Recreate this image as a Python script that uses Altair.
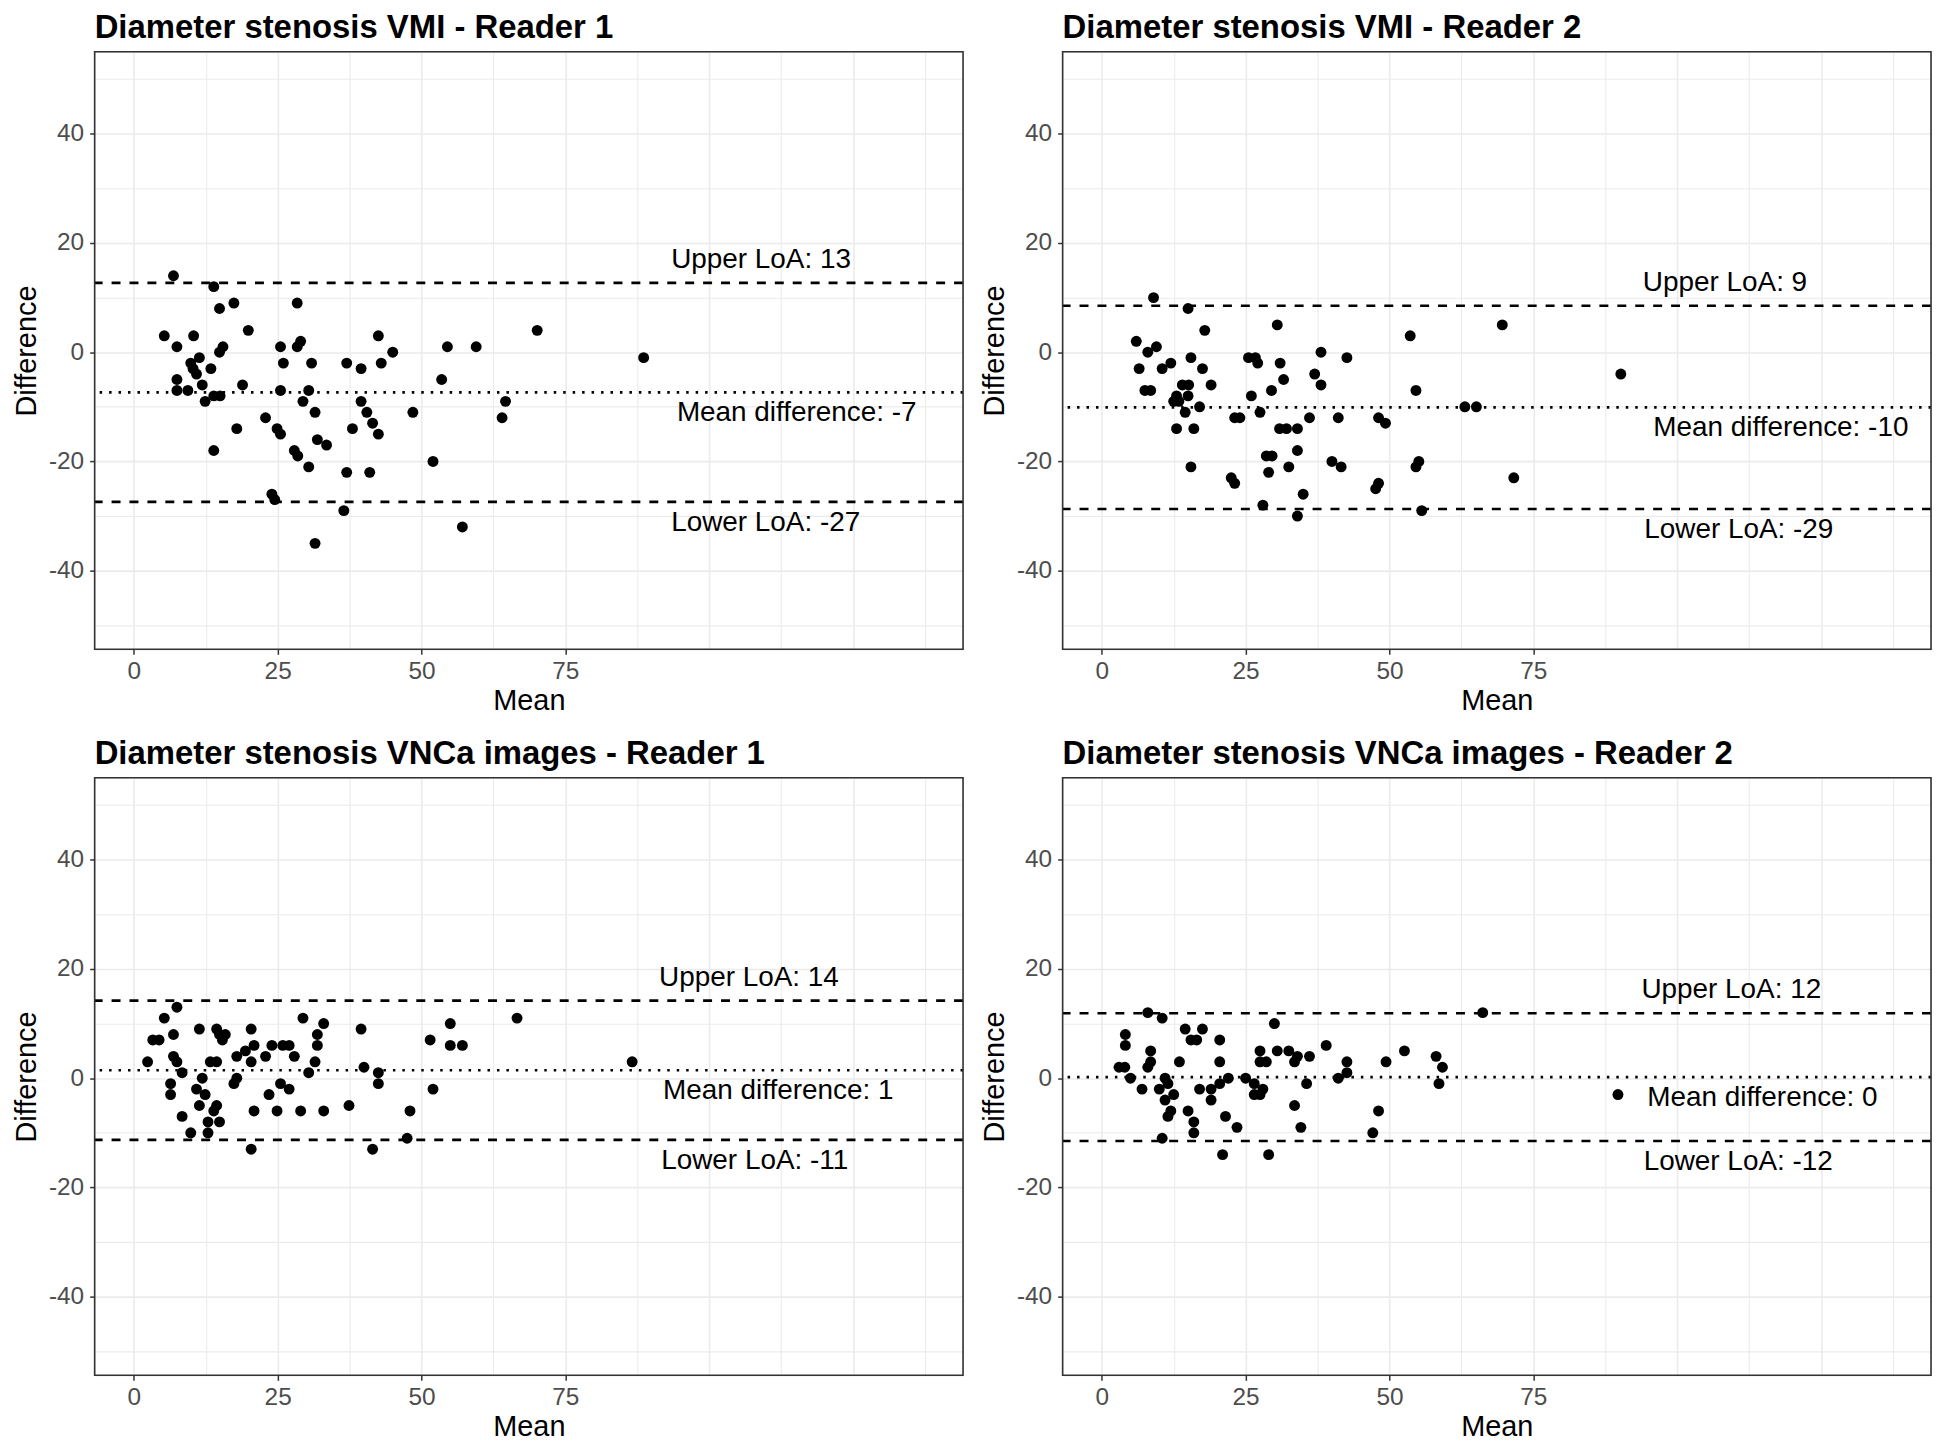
import altair as alt
import pandas as pd

FONT = "Liberation Sans"

titles = [
    "Diameter stenosis VMI - Reader 1",
    "Diameter stenosis VMI - Reader 2",
    "Diameter stenosis VNCa images - Reader 1",
    "Diameter stenosis VNCa images - Reader 2",
]

# Panel 1: VMI - Reader 1
p1_mean = [6.9, 13.9, 14.9, 17.4, 28.4, 5.3, 10.4, 7.5, 15.5, 14.9, 19.9, 25.5, 28.4, 29.0, 42.5,
           45.0, 26.0, 30.9, 37.0, 39.5, 43.0, 11.4, 9.9, 10.3, 10.9, 13.4, 7.5, 7.5, 9.4, 11.9,
           12.4, 13.9, 15.0, 18.9, 25.5, 30.4, 29.4, 31.5, 39.5, 40.5, 41.5, 42.5, 38.0, 48.5, 22.9,
           24.9, 25.5, 17.9, 13.9, 31.9, 33.5, 27.9, 28.5, 30.4, 37.0, 41.0, 24.0, 24.5, 36.5, 31.5,
           54.5, 59.5, 70.1, 53.5, 64.6, 64.0, 52.0, 57.1, 88.6]
p1_diff = [14, 12, 8, 9, 9, 3, 3, 1, 1, 0, 4, 1, 1, 2, 3,
           0, -2, -2, -2, -3, -2, -1, -2, -3, -4, -3, -5, -7, -7, -6,
           -9, -8, -8, -6, -7, -7, -9, -11, -9, -11, -13, -15, -14, -11, -12,
           -14, -15, -14, -18, -16, -17, -18, -19, -21, -22, -22, -26, -27, -29, -35,
           1, 1, 4, -5, -9, -12, -20, -32, -1]

# Panel 2: VMI - Reader 2
p2_mean = [9.0, 15.0, 17.9, 30.5, 6.0, 8.0, 9.5, 6.5, 10.5, 12.0, 15.5, 17.5, 7.5, 8.5, 14.0,
           15.1, 19.0, 13.0, 12.5, 13.4, 15.0, 14.5, 17.0, 13.0, 16.0, 15.5, 25.5, 26.7, 27.1, 31.0,
           38.1, 42.6, 37.0, 38.1, 31.6, 29.5, 26.0, 27.5, 23.1, 24.0, 36.1, 41.1, 48.1, 49.3, 30.9,
           32.1, 34.0, 34.0, 28.6, 29.6, 29.0, 32.5, 40.0, 41.6, 22.5, 23.1, 28.0, 35.0, 34.0, 47.6,
           48.1, 53.6, 69.6, 54.6, 63.1, 65.1, 90.2, 55.1, 54.6, 71.6, 55.6]
p2_diff = [10, 8, 4, 5, 2, 0, 1, -3, -3, -2, -1, -3, -7, -7, -6,
           -6, -6, -8, -9, -9, -8, -11, -10, -14, -14, -21, -1, -1, -2, -2,
           0, -1, -4, -6, -5, -7, -8, -11, -12, -12, -12, -12, -12, -13, -14,
           -14, -14, -18, -19, -19, -22, -21, -20, -21, -23, -24, -28, -26, -30, -25,
           -24, 3, 5, -7, -10, -10, -4, -20, -21, -23, -29]

# Panel 3: VNCa images - Reader 1
p3_mean = [7.5, 5.3, 3.3, 4.4, 6.9, 11.4, 14.4, 14.9, 15.9, 15.4, 20.4, 20.9, 20.4, 19.4, 17.9,
           24.0, 25.9, 27.0, 22.9, 27.9, 29.4, 33.0, 31.9, 31.9, 31.5, 30.4, 39.5, 40.0, 42.5, 42.5,
           2.4, 6.9, 7.5, 8.4, 13.3, 14.4, 6.4, 6.4, 11.9, 10.9, 12.4, 11.4, 14.4, 13.9, 8.4,
           12.9, 14.9, 9.9, 12.9, 17.4, 17.9, 23.5, 25.5, 27.0, 20.9, 24.9, 29.0, 33.0, 37.4, 48.0,
           47.5, 41.5, 20.4, 55.0, 51.5, 55.0, 57.1, 66.6, 86.6, 52.0]
p3_diff = [13, 11, 7, 7, 8, 9, 9, 8, 8, 7, 9, 6, 3, 5, 4,
           6, 6, 6, 4, 4, 11, 10, 8, 6, 3, 1, 9, 2, 1, -1,
           3, 4, 3, 1, 3, 3, -1, -3, 0, -2, -3, -5, -5, -6, -7,
           -8, -8, -10, -10, -1, 0, -3, -1, -2, -6, -6, -6, -6, -5, -6,
           -11, -13, -13, 10, 7, 6, 6, 11, 3, -2]

# Panel 4: VNCa images - Reader 2
p4_mean = [8.0, 10.5, 4.1, 4.1, 3.0, 4.0, 5.0, 8.5, 8.5, 8.0, 7.0, 10.0, 11.0, 11.5, 12.5,
           11.0, 12.0, 11.5, 10.5, 13.5, 14.5, 15.5, 16.5, 17.5, 20.5, 20.5, 17.0, 19.0, 19.0, 20.5,
           22.0, 15.0, 16.0, 16.0, 21.5, 23.5, 21.0, 25.0, 26.5, 26.5, 27.5, 28.0, 27.5, 27.5, 28.6,
           30.0, 30.5, 32.5, 34.0, 33.5, 36.1, 35.6, 33.5, 34.6, 29.0, 39.0, 42.6, 42.6, 41.1, 49.4,
           48.1, 47.1, 52.6, 58.1, 59.2, 58.6, 66.2, 89.7]
p4_diff = [12, 11, 8, 6, 2, 2, 0, 5, 3, 2, -2, -2, 0, -1, -3,
           -4, -6, -7, -11, 3, 9, 7, 7, 9, 7, 3, -2, -2, -4, -1,
           0, -6, -8, -10, -7, -9, -14, 0, -1, -3, -3, -2, 5, 3, 3,
           10, 5, 5, 4, 3, 4, -1, -5, -9, -14, 6, 3, 1, 0, 3,
           -6, -10, 5, 4, 2, -1, 12, -3]

means = [p1_mean, p2_mean, p3_mean, p4_mean]
diffs = [p1_diff, p2_diff, p3_diff, p4_diff]

loa_upper = [12.7, 8.5, 14.2, 11.9]
loa_mean = [-7.35, -10.1, 1.45, 0.2]
loa_lower = [-27.4, -28.7, -11.3, -11.5]

upper_text = ["Upper LoA: 13", "Upper LoA: 9", "Upper LoA: 14", "Upper LoA: 12"]
mean_text = ["Mean difference: -7", "Mean difference: -10", "Mean difference: 1", "Mean difference: 0"]
lower_text = ["Lower LoA: -27", "Lower LoA: -29", "Lower LoA: -11", "Lower LoA: -12"]

upper_text_x = [109.0, 108.3, 106.9, 109.4]
mean_text_x = [115.2, 118.0, 112.0, 114.8]
lower_text_x = [109.8, 110.7, 107.9, 110.6]

x_ticks = [0, 25, 50, 75]
y_ticks = [-40, -20, 0, 20, 40]
x_grid = [i * 12.5 for i in range(12)]
y_grid = list(range(-50, 51, 10))

XDOM = [-6.8, 144.1]
YDOM = [-54.4, 55.0]
W, H = 872, 600

x_major = "indexof(" + str(x_ticks) + ", datum.value) >= 0"
y_major = "indexof(" + str(y_ticks) + ", datum.value) >= 0"

common_axis = dict(
    labelFont=FONT, labelFontSize=24.5, labelColor="#4D4D4D",
    titleFont=FONT, titleFontSize=29, titleColor="black", titleFontWeight="normal",
    tickColor="#333333", tickWidth=1.5, tickSize=5,
    domain=False, grid=True, gridColor="#EBEBEB",
)

xaxis = alt.Axis(
    values=x_grid,
    labelExpr=f"({x_major}) ? toString(datum.value) : ''",
    tickOpacity={"condition": {"test": x_major, "value": 1}, "value": 0},
    gridWidth={"condition": {"test": "datum.value % 25 == 0", "value": 1.6}, "value": 1.1},
    labelPadding=5, titlePadding=4,
    **common_axis,
)
yaxis = alt.Axis(
    values=y_grid,
    labelExpr=f"({y_major}) ? toString(datum.value) : ''",
    tickOpacity={"condition": {"test": y_major, "value": 1}, "value": 0},
    gridWidth={"condition": {"test": "datum.value % 20 == 0", "value": 1.6}, "value": 1.1},
    labelPadding=6, titlePadding=7,
    **common_axis,
)


def panel(i):
    xs = alt.Scale(domain=XDOM, nice=False, zero=False)
    ys = alt.Scale(domain=YDOM, nice=False, zero=False)
    xenc = alt.X("mean:Q", title="Mean", scale=xs, axis=xaxis)
    yenc = alt.Y("diff:Q", title="Difference", scale=ys, axis=yaxis)

    pts = pd.DataFrame({"mean": means[i], "diff": diffs[i]})
    points = alt.Chart(pts).mark_circle(size=120, color="black", opacity=1).encode(x=xenc, y=yenc)

    dashed = alt.Chart(pd.DataFrame({"diff": [loa_upper[i], loa_lower[i]]})).mark_rule(
        color="black", strokeWidth=2.6, strokeDash=[9, 9]
    ).encode(y=yenc)
    dotted = alt.Chart(pd.DataFrame({"diff": [loa_mean[i]]})).mark_rule(
        color="black", strokeWidth=2.6, strokeDash=[2.5, 7]
    ).encode(y=yenc)

    above = pd.DataFrame({"mean": [upper_text_x[i]], "diff": [loa_upper[i]], "t": [upper_text[i]]})
    below = pd.DataFrame({
        "mean": [mean_text_x[i], lower_text_x[i]],
        "diff": [loa_mean[i], loa_lower[i]],
        "t": [mean_text[i], lower_text[i]],
    })
    txt_above = alt.Chart(above).mark_text(
        font=FONT, fontSize=28, color="black", align="center", baseline="alphabetic", dy=-15
    ).encode(x=xenc, y=yenc, text="t:N")
    txt_below = alt.Chart(below).mark_text(
        font=FONT, fontSize=28, color="black", align="center", baseline="alphabetic", dy=29
    ).encode(x=xenc, y=yenc, text="t:N")

    # panel border (theme_bw style frame)
    frame = alt.Chart(pd.DataFrame({"k": [0]})).mark_rect(
        fill="transparent", stroke="#333333", strokeWidth=1.6
    ).encode(x=alt.value(0), x2=alt.value(W), y=alt.value(0), y2=alt.value(H))

    return alt.layer(dashed, dotted, points, txt_above, txt_below, frame).properties(
        width=W, height=H,
        title=alt.TitleParams(
            titles[i], anchor="start", frame="group", font=FONT, fontSize=33,
            fontWeight="bold", color="black", offset=6,
        ),
    )


chart = alt.vconcat(
    alt.hconcat(panel(0), panel(1), spacing=15),
    alt.hconcat(panel(2), panel(3), spacing=15),
    spacing=21,
).properties(
    padding={"left": 4, "top": 0, "right": 0, "bottom": 0}
).configure_view(
    stroke="#333333", strokeWidth=1.6
).configure(background="white")

chart.save("out.html", embed_options={"renderer": "svg", "actions": False})
